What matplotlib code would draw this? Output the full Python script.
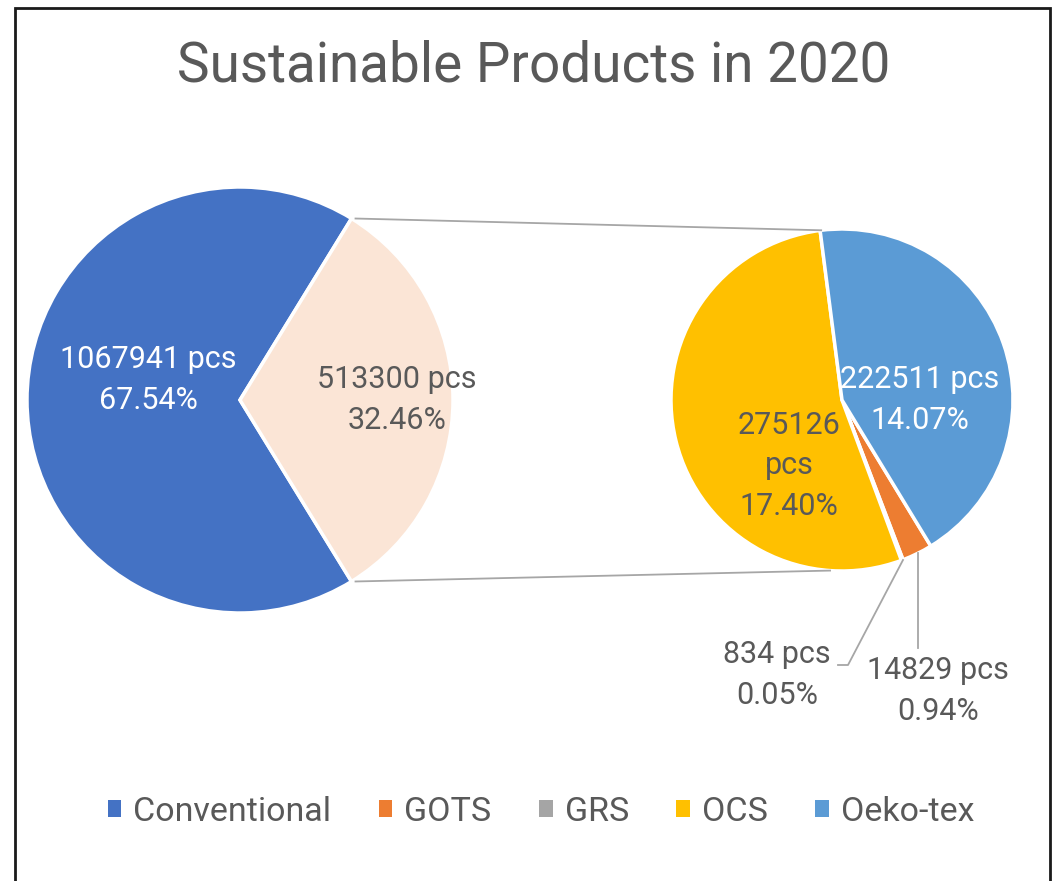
import numpy as np
import matplotlib.pyplot as plt
from matplotlib.patches import Patch, Rectangle

# data
main_labels = ["Conventional", "Sustainable"]
main_values = [1067941, 513300]
sub_labels = ["GOTS", "GRS", "OCS", "Oeko-tex"]
sub_values = [14829, 834, 275126, 222511]
legend_labels = ["Conventional", "GOTS", "GRS", "OCS", "Oeko-tex"]

COLORS = {
    "Conventional": "#4472C4",
    "Sustainable": "#FBE5D6",
    "GOTS": "#ED7D31",
    "GRS": "#A5A5A5",
    "OCS": "#FFC000",
    "Oeko-tex": "#5B9BD5",
}
TEXT = "#595959"
FONT = "Roboto"

W, H = 1057, 881
total = sum(main_values)


def img(x, y):
    # image pixel coords -> axes data coords
    return x, H - y


def label_text(v):
    return f"{v} pcs\n{v / total * 100:.2f}%"


fig = plt.figure(figsize=(W / 100, H / 100), dpi=100)
ax = fig.add_axes([0, 0, 1, 1])
ax.set_xlim(0, W)
ax.set_ylim(0, H)
ax.set_aspect("equal")
ax.axis("off")

# frame around the chart
ax.add_patch(Rectangle((15, -10), 1035, H - 8 + 10, fill=False, edgecolor="#1a1a1a", linewidth=2))

ax.text(534, H - 66, "Sustainable Products in 2020", ha="center", va="center",
        fontsize=39.5, color=TEXT, family=FONT, fontweight="normal")

# primary pie
c1, r1 = img(240, 400), 213
share = main_values[1] / total * 360
ax.pie(main_values, colors=[COLORS[k] for k in main_labels], center=c1, radius=r1,
       startangle=share / 2, counterclock=True,
       wedgeprops=dict(edgecolor="white", linewidth=2.5), frame=True)

# secondary pie
c2, r2 = img(842, 400), 171
ax.pie(sub_values, colors=[COLORS[k] for k in sub_labels], center=c2, radius=r2,
       startangle=-58.7, counterclock=False,
       wedgeprops=dict(edgecolor="white", linewidth=2.5), frame=True)
ax.set_xlim(0, W)
ax.set_ylim(0, H)
ax.axis("off")

# connector lines
for a1, a2 in [(share / 2, 97), (-share / 2, -94)]:
    p1 = (c1[0] + r1 * np.cos(np.radians(a1)), c1[1] + r1 * np.sin(np.radians(a1)))
    p2 = (c2[0] + r2 * np.cos(np.radians(a2)), c2[1] + r2 * np.sin(np.radians(a2)))
    ax.plot([p1[0] + 4, p2[0]], [p1[1], p2[1]], color="#A6A6A6", linewidth=1.3)

lbl = dict(ha="center", va="center", fontsize=22, family=FONT, fontweight="normal",
           linespacing=1.5)
ax.text(*img(148, 380), label_text(main_values[0]), color="white", **lbl)
ax.text(*img(397, 400), label_text(main_values[1]), color=TEXT, **lbl)
ax.text(*img(920, 400), label_text(sub_values[3]), color="white", **lbl)
ax.text(*img(789, 466), f"{sub_values[2]}\npcs\n{sub_values[2] / total * 100:.2f}%",
        color=TEXT, **lbl)
ax.text(*img(777, 675), label_text(sub_values[1]), color=TEXT, **lbl)
ax.text(*img(938, 691), label_text(sub_values[0]), color=TEXT, **lbl)

# leader lines for the small slices
ax.plot(*zip(img(903, 560), img(848, 665), img(838, 665)), color="#A6A6A6", linewidth=1.3)
ax.plot(*zip(img(918, 553), img(918, 648)), color="#A6A6A6", linewidth=1.3)

handles = [Patch(facecolor=COLORS[k]) for k in legend_labels]
fig.legend(handles, legend_labels, loc="center", bbox_to_anchor=(541 / W, 1 - 812 / H),
           ncol=5, frameon=False, handlelength=0.4, handleheight=0.4, handletextpad=0.35,
           columnspacing=1.4, prop=dict(family=FONT, size=24.5, weight="normal"),
           labelcolor=TEXT)

fig.savefig("out.png", dpi=100)
